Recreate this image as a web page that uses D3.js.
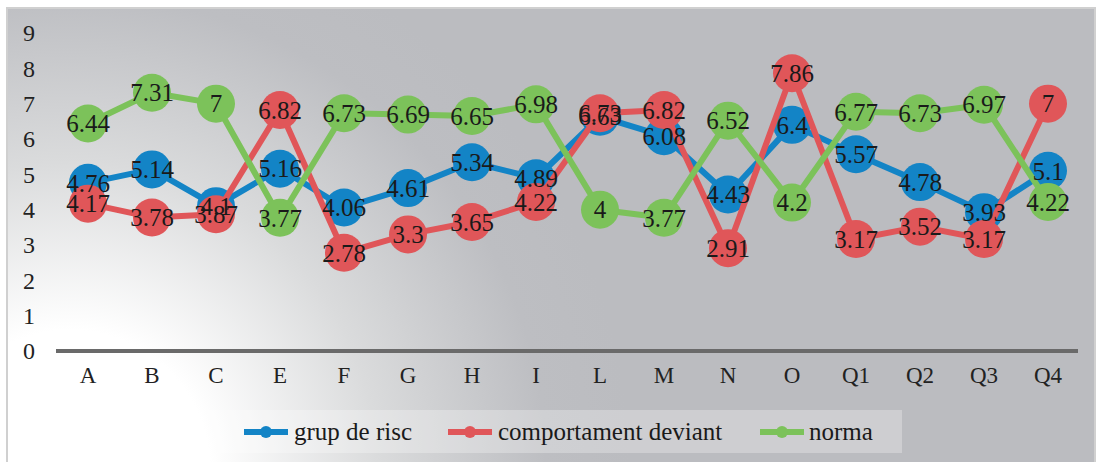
<!DOCTYPE html>
<html>
<head>
<meta charset="utf-8">
<script src="https://cdn.jsdelivr.net/npm/d3@7"></script>
<style>
  html, body { margin: 0; padding: 0; background: #ffffff; }
  svg { display: block; }
  svg text { font-family: "Liberation Serif", "Times New Roman", Times, "DejaVu Serif", serif; }
</style>
</head>
<body>
<svg id="chart" width="1101" height="462"></svg>
<script>
const categories = ["A","B","C","E","F","G","H","I","L","M","N","O","Q1","Q2","Q3","Q4"];
const grupDeRisc = [4.76,5.14,4.1,5.16,4.06,4.61,5.34,4.89,6.63,6.08,4.43,6.4,5.57,4.78,3.93,5.1];
const comportamentDeviant = [4.17,3.78,3.87,6.82,2.78,3.3,3.65,4.22,6.73,6.82,2.91,7.86,3.17,3.52,3.17,7];
const norma = [6.44,7.31,7,3.77,6.73,6.69,6.65,6.98,4,3.77,6.52,4.2,6.77,6.73,6.97,4.22];
const seriesNames = ["grup de risc","comportament deviant","norma"];
const yTicks = [0,1,2,3,4,5,6,7,8,9];

const colors = ["#1384c6","#e05659","#7cc25a"];
const seriesValues = [grupDeRisc, comportamentDeviant, norma];
const font = '"Liberation Serif", "Times New Roman", Times, "DejaVu Serif", serif';

const svg = d3.select("#chart");
const defs = svg.append("defs");
const grad = defs.append("radialGradient")
  .attr("id","bg").attr("gradientUnits","userSpaceOnUse")
  .attr("cx",70).attr("cy",470).attr("r",560);
grad.append("stop").attr("offset","0").attr("stop-color","#ffffff");
grad.append("stop").attr("offset","0.25").attr("stop-color","#ffffff");
grad.append("stop").attr("offset","0.55").attr("stop-color","#dadbdc");
grad.append("stop").attr("offset","0.85").attr("stop-color","#bdbec2");
grad.append("stop").attr("offset","1").attr("stop-color","#bbbcc0");

svg.append("rect").attr("x",7).attr("y",8).attr("width",1088).attr("height",460)
  .attr("fill","url(#bg)").attr("stroke","#d0d0d0").attr("stroke-width",2);

const x = d3.scaleBand().domain(categories).range([56,1080]);
const y = d3.scaleLinear().domain([0,9]).range([351,33]);

const yAxis = d3.axisLeft(y).tickValues(yTicks).tickSize(0).tickPadding(0).tickFormat(d3.format("d"));
const gy = svg.append("g").attr("transform","translate(35,0)").call(yAxis).attr("font-family",null);
gy.select(".domain").remove();
gy.selectAll("text").style("font-family",font).attr("font-size",24).attr("fill","#222");

const xAxis = d3.axisBottom(x).tickSize(0).tickPadding(0);
const gx = svg.append("g").attr("transform","translate(0,351)").call(xAxis).attr("font-family",null);
gx.select(".domain").attr("stroke","#6a6a6a").attr("stroke-width",4).attr("d","M56,0H1078");
gx.selectAll("text").style("font-family",font).attr("font-size",23).attr("fill","#222").attr("dy","1.4em");

const cx = (i) => x(categories[i]) + x.bandwidth()/2;
const line = d3.line().x((d,i)=>cx(i)).y(d=>y(d));

seriesValues.forEach((vals, s) => {
  const g = svg.append("g");
  g.append("path").datum(vals).attr("d",line).attr("fill","none")
    .attr("stroke",colors[s]).attr("stroke-width",6).attr("stroke-linejoin","round");
  g.selectAll("circle").data(vals).join("circle")
    .attr("cx",(d,i)=>cx(i)).attr("cy",d=>y(d)).attr("r",19).attr("fill",colors[s]);
});

seriesValues.forEach((vals, s) => {
  svg.append("g").selectAll("text").data(vals).join("text")
    .attr("x",(d,i)=>cx(i)).attr("y",d=>y(d)).attr("dy","0.35em")
    .attr("text-anchor","middle").style("font-family",font).attr("font-size",25)
    .attr("fill","#1a1a1a").text(d=>String(d));
});

const lg = svg.append("g");
lg.append("rect").attr("x",208).attr("y",410).attr("width",694).attr("height",43)
  .attr("fill","#ffffff").attr("fill-opacity",0.28);
const legendItems = [
  {lx:244, tx:294},
  {lx:448, tx:498},
  {lx:760, tx:809}
];
seriesNames.forEach((name, s) => {
  const it = legendItems[s];
  const g = lg.append("g");
  g.append("line").attr("x1",it.lx).attr("x2",it.lx+44).attr("y1",432).attr("y2",432)
    .attr("stroke",colors[s]).attr("stroke-width",6);
  g.append("circle").attr("cx",it.lx+22).attr("cy",432).attr("r",6).attr("fill",colors[s]);
  g.append("text").attr("x",it.tx).attr("y",432).attr("dy","0.33em")
    .style("font-family",font).attr("font-size",25).attr("fill","#1a1a1a").text(name);
});
</script>
</body>
</html>
